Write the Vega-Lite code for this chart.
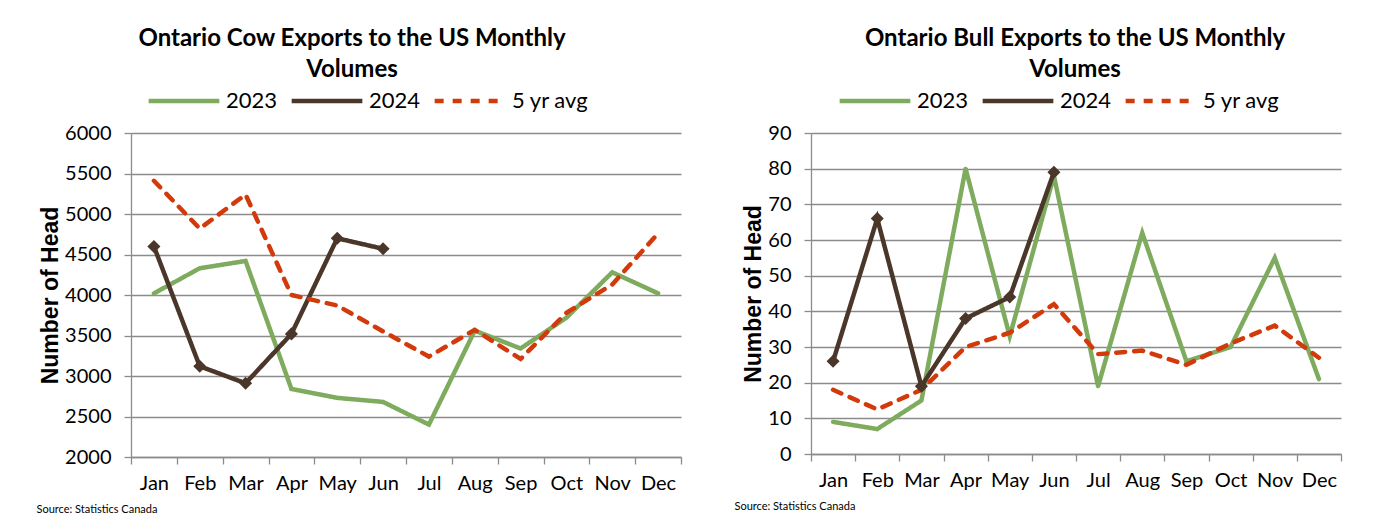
{
  "$schema": "https://vega.github.io/schema/vega-lite/v6.json",
  "background": "white",
  "padding": {"left": 36, "top": 27, "right": 5, "bottom": 0},
  "spacing": 52,
  "datasets": {
    "cow": [
      {"month": "Jan", "series": "2023", "value": 4020},
      {"month": "Feb", "series": "2023", "value": 4330},
      {"month": "Mar", "series": "2023", "value": 4420},
      {"month": "Apr", "series": "2023", "value": 2840},
      {"month": "May", "series": "2023", "value": 2730},
      {"month": "Jun", "series": "2023", "value": 2680},
      {"month": "Jul", "series": "2023", "value": 2400},
      {"month": "Aug", "series": "2023", "value": 3560},
      {"month": "Sep", "series": "2023", "value": 3340},
      {"month": "Oct", "series": "2023", "value": 3720},
      {"month": "Nov", "series": "2023", "value": 4280},
      {"month": "Dec", "series": "2023", "value": 4020},
      {"month": "Jan", "series": "2024", "value": 4600},
      {"month": "Feb", "series": "2024", "value": 3120},
      {"month": "Mar", "series": "2024", "value": 2910},
      {"month": "Apr", "series": "2024", "value": 3520},
      {"month": "May", "series": "2024", "value": 4700},
      {"month": "Jun", "series": "2024", "value": 4570},
      {"month": "Jan", "series": "5 yr avg", "value": 5410},
      {"month": "Feb", "series": "5 yr avg", "value": 4820},
      {"month": "Mar", "series": "5 yr avg", "value": 5240},
      {"month": "Apr", "series": "5 yr avg", "value": 4000},
      {"month": "May", "series": "5 yr avg", "value": 3870},
      {"month": "Jun", "series": "5 yr avg", "value": 3550},
      {"month": "Jul", "series": "5 yr avg", "value": 3240},
      {"month": "Aug", "series": "5 yr avg", "value": 3570},
      {"month": "Sep", "series": "5 yr avg", "value": 3210},
      {"month": "Oct", "series": "5 yr avg", "value": 3780},
      {"month": "Nov", "series": "5 yr avg", "value": 4130},
      {"month": "Dec", "series": "5 yr avg", "value": 4760}
    ],
    "bull": [
      {"month": "Jan", "series": "2023", "value": 9},
      {"month": "Feb", "series": "2023", "value": 7},
      {"month": "Mar", "series": "2023", "value": 15},
      {"month": "Apr", "series": "2023", "value": 80},
      {"month": "May", "series": "2023", "value": 33},
      {"month": "Jun", "series": "2023", "value": 78},
      {"month": "Jul", "series": "2023", "value": 19},
      {"month": "Aug", "series": "2023", "value": 62},
      {"month": "Sep", "series": "2023", "value": 26},
      {"month": "Oct", "series": "2023", "value": 30},
      {"month": "Nov", "series": "2023", "value": 55},
      {"month": "Dec", "series": "2023", "value": 21},
      {"month": "Jan", "series": "2024", "value": 26},
      {"month": "Feb", "series": "2024", "value": 66},
      {"month": "Mar", "series": "2024", "value": 19},
      {"month": "Apr", "series": "2024", "value": 38},
      {"month": "May", "series": "2024", "value": 44},
      {"month": "Jun", "series": "2024", "value": 79},
      {"month": "Jan", "series": "5 yr avg", "value": 18},
      {"month": "Feb", "series": "5 yr avg", "value": 12.5},
      {"month": "Mar", "series": "5 yr avg", "value": 18},
      {"month": "Apr", "series": "5 yr avg", "value": 30},
      {"month": "May", "series": "5 yr avg", "value": 34},
      {"month": "Jun", "series": "5 yr avg", "value": 42},
      {"month": "Jul", "series": "5 yr avg", "value": 28},
      {"month": "Aug", "series": "5 yr avg", "value": 29},
      {"month": "Sep", "series": "5 yr avg", "value": 25},
      {"month": "Oct", "series": "5 yr avg", "value": 31},
      {"month": "Nov", "series": "5 yr avg", "value": 36},
      {"month": "Dec", "series": "5 yr avg", "value": 27}
    ]
  },
  "hconcat": [
    {
      "data": {"name": "cow"},
      "width": 550,
      "height": 324,
      "title": {"text": ["Ontario Cow Exports to the US Monthly", "Volumes"], "dx": -54},
      "encoding": {
        "x": {
          "field": "month", "type": "ordinal", "bandPosition": 0.5,
          "sort": ["Jan","Feb","Mar","Apr","May","Jun","Jul","Aug","Sep","Oct","Nov","Dec"],
          "scale": {"type": "band", "paddingInner": 0, "paddingOuter": 0},
          "axis": {"title": "Source: Statistics Canada", "titleX": -95}
        },
        "y": {
          "field": "value", "type": "quantitative",
          "scale": {"domain": [2000, 6000], "nice": false, "zero": false},
          "axis": {"title": "Number of Head", "format": "d", "values": [2000,2500,3000,3500,4000,4500,5000,5500,6000]}
        }
      },
      "layer": [
        {
          "mark": {"type": "line", "strokeWidth": 4.5, "strokeCap": "round", "strokeJoin": "miter"},
          "encoding": {
            "color": {"field": "series", "type": "nominal",
              "scale": {"domain": ["2023","2024","5 yr avg"], "range": ["#7fab5f","#4b362a","#d33a0b"]},
              "legend": {"legendX": 15, "legendY": -70}},
            "strokeDash": {"field": "series", "type": "nominal",
              "scale": {"domain": ["2023","2024","5 yr avg"], "range": [[1,0],[1,0],[9,9]]},
              "legend": {"legendX": 15, "legendY": -70}}
          }
        },
        {
          "transform": [{"filter": "datum.series === '2024'"}],
          "mark": {"type": "point", "shape": "diamond", "filled": true, "opacity": 1, "size": 170, "color": "#4b362a"}
        }
      ]
    },
    {
      "data": {"name": "bull"},
      "width": 530,
      "height": 321,
      "title": {"text": ["Ontario Bull Exports to the US Monthly", "Volumes"], "dx": -1},
      "encoding": {
        "x": {
          "field": "month", "type": "ordinal", "bandPosition": 0.5,
          "sort": ["Jan","Feb","Mar","Apr","May","Jun","Jul","Aug","Sep","Oct","Nov","Dec"],
          "scale": {"type": "band", "paddingInner": 0, "paddingOuter": 0},
          "axis": {"title": "Source: Statistics Canada", "titleX": -77}
        },
        "y": {
          "field": "value", "type": "quantitative",
          "scale": {"domain": [0, 90], "nice": false},
          "axis": {"title": "Number of Head", "format": "d", "values": [0,10,20,30,40,50,60,70,80,90]}
        }
      },
      "layer": [
        {
          "mark": {"type": "line", "strokeWidth": 4.5, "strokeCap": "round", "strokeJoin": "miter"},
          "encoding": {
            "color": {"field": "series", "type": "nominal",
              "scale": {"domain": ["2023","2024","5 yr avg"], "range": ["#7fab5f","#4b362a","#d33a0b"]},
              "legend": {"legendX": 26, "legendY": -70}},
            "strokeDash": {"field": "series", "type": "nominal",
              "scale": {"domain": ["2023","2024","5 yr avg"], "range": [[1,0],[1,0],[9,9]]},
              "legend": {"legendX": 26, "legendY": -70}}
          }
        },
        {
          "transform": [{"filter": "datum.series === '2024'"}],
          "mark": {"type": "point", "shape": "diamond", "filled": true, "opacity": 1, "size": 170, "color": "#4b362a"}
        }
      ]
    }
  ],
  "resolve": {
    "scale": {"x": "independent", "y": "independent", "color": "independent", "strokeDash": "independent"},
    "legend": {"color": "independent", "strokeDash": "independent"}
  },
  "config": {
    "font": "Lato",
    "view": {"stroke": null},
    "title": {"font": "Lato", "fontSize": 24, "fontWeight": "bold", "color": "#000", "anchor": "middle", "lineHeight": 31, "offset": -19},
    "axis": {
      "labelFont": "Lato", "labelFontSize": 20, "labelColor": "#000",
      "domainColor": "#8c8c8c", "tickColor": "#8c8c8c", "gridColor": "#8c8c8c",
      "domainWidth": 1.3, "tickWidth": 1.3, "gridWidth": 1.3, "tickSize": 7
    },
    "axisX": {
      "labelAngle": 0, "tickBand": "extent", "grid": false, "labelPadding": 9,
      "titleFont": "Lato", "titleFontSize": 11, "titleFontWeight": "normal", "titleColor": "#000",
      "titleAnchor": "start", "titleAlign": "left", "titleBaseline": "top", "titleY": 46
    },
    "axisY": {
      "grid": true, "labelPadding": 13, "titlePadding": 2,
      "titleFont": "Liberation Sans", "titleFontSize": 23, "titleFontWeight": "bold", "titleColor": "#000"
    },
    "legend": {
      "orient": "none", "direction": "horizontal", "title": null,
      "symbolType": "stroke", "symbolSize": 5000, "symbolStrokeWidth": 4.5,
      "labelFont": "Lato", "labelFontSize": 22, "labelColor": "#000",
      "labelOffset": 4, "columnPadding": 4
    }
  }
}
